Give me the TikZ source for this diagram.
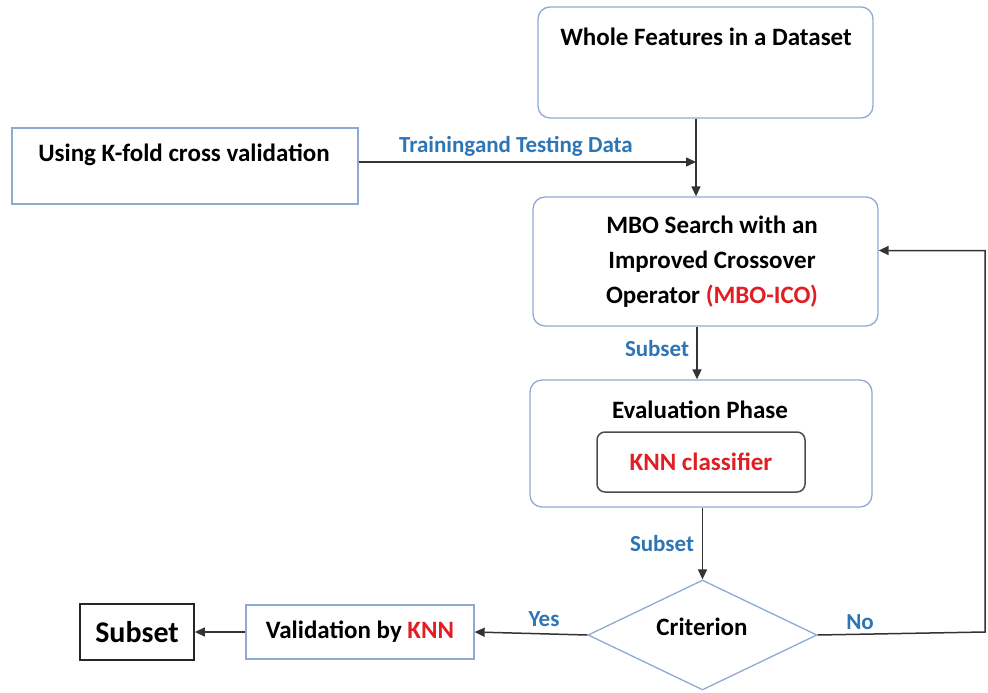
\documentclass[tikz,border=0pt]{standalone}
\usepackage{fontspec}
\setmainfont{Carlito}
\usetikzlibrary{shapes.geometric,arrows.meta}
\definecolor{boxblue}{RGB}{143,170,210}
\definecolor{lblblue}{RGB}{46,117,182}
\definecolor{hotred}{RGB}{225,30,35}
\begin{document}
\begin{tikzpicture}[x=1pt,y=-1pt,
  font=\fontsize{25}{35}\selectfont\bfseries,
  box/.style={draw=boxblue, line width=1.3pt, rounded corners=12pt, inner sep=0pt},
  sqbox/.style={draw=boxblue, line width=1.3pt, inner sep=0pt},
  flow/.style={-{Triangle[length=10pt,width=9pt]}, line width=1.5pt, draw=black!80},
  lbl/.style={text=lblblue, font=\fontsize{23}{26}\selectfont\bfseries},
  txt/.style={inner sep=0pt, align=center}]
\useasboundingbox (0,0) rectangle (988,693);

% boxes
\node[box, minimum width=335, minimum height=111] (wf) at (705.5,62.5) {};
\node[txt] (wft) at (706,37) {Whole Features in a Dataset};

\node[sqbox, minimum width=346, minimum height=76] (kf) at (185,166) {};
\node[txt] (kft) at (184,155) {Using K-fold cross validation};

\node[box, minimum width=345, minimum height=129] (mbo) at (705.5,261.5) {};
\node[txt] (mbot) at (712,262) {MBO Search with an\\Improved Crossover\\Operator \textcolor{hotred}{(MBO-ICO)}};

\node[box, minimum width=342, minimum height=127] (ev) at (701,443.5) {};
\node[txt] (evt) at (700,410) {Evaluation Phase};
\node[draw=black!70, line width=1.5pt, rounded corners=8pt,
      minimum width=208, minimum height=60, text=hotred] (knn) at (701,462) {KNN classifier};

\node[draw=boxblue, line width=1.3pt, diamond, minimum width=229, minimum height=110,
      inner sep=0pt] (crit) at (702.5,635) {};
\node[txt] (critt) at (702,627) {Criterion};

\node[sqbox, minimum width=228, minimum height=54] (val) at (360,632)
  {Validation by \textcolor{hotred}{KNN}};
\node[draw=black!85, line width=1.8pt, inner sep=0pt, minimum width=114, minimum height=56,
      font=\fontsize{30}{34}\selectfont\bfseries] (sub) at (137,632) {Subset};

% junction where the training data joins the main flow
\coordinate (j) at (696,162);
\coordinate (j2) at (697,0);
\coordinate (loop) at (985,632);

% connectors
\draw[flow] (wf.south -| j) -- (mbo.north -| j);
\draw[flow] (kf.east |- j) -- (j);
\draw[flow] (mbo.south -| j2) -- (ev.north -| j2);
\draw[flow] (ev.south -| crit.north) -- (crit.north);
\draw[flow] (crit.east) -- (loop) |- ([yshift=11pt]mbo.east);
\draw[flow] (crit.west) -- (val.east);
\draw[flow] (val.west) -- (sub.east);

% connector labels
\node[lbl] (l1) at (516,146) {Trainingand Testing Data};
\node[lbl] (l2) at (657,349) {Subset};
\node[lbl] (l3) at (662,544) {Subset};
\node[lbl] (l4) at (544,619) {Yes};
\node[lbl] (l5) at (860,622) {No};
\end{tikzpicture}
\end{document}
